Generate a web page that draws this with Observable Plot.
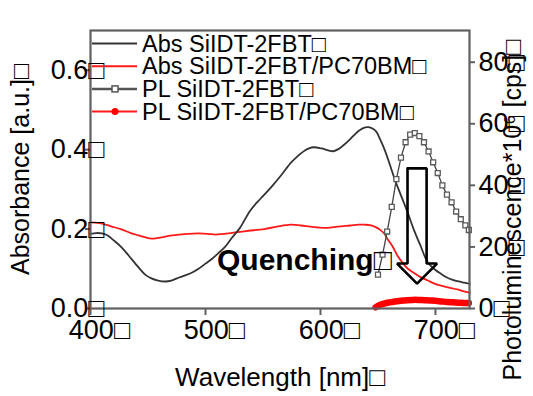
<!DOCTYPE html>
<html><head><meta charset="utf-8">
<script src="https://cdn.jsdelivr.net/npm/d3@7"></script>
<script src="https://cdn.jsdelivr.net/npm/@observablehq/plot@0.6"></script>
<style>body{margin:0;background:#fff;}</style>
</head><body><div id="chart"></div>
<script>
const BOX = "\u25A1";

// Absorbance, SiIDT-2FBT (a.u.)
const absWl = [400,405,410,415,420,427,433,439,444,448,453,458,465,471,477,483,488,494,500,506,511,517,523,530,539,548,557,566,574,580,585,590,594,601,606,611,616,620,625,629,634,639,643,648,652,656,660,665,670,676,681,687,693,700,705,710,715,720,725,730];
const absPristine = [0.188,0.190,0.189,0.184,0.172,0.154,0.134,0.113,0.096,0.084,0.076,0.071,0.068,0.071,0.078,0.084,0.090,0.100,0.113,0.126,0.139,0.155,0.178,0.203,0.247,0.277,0.305,0.336,0.366,0.383,0.395,0.403,0.406,0.403,0.399,0.396,0.402,0.411,0.424,0.436,0.449,0.456,0.456,0.447,0.425,0.398,0.365,0.322,0.285,0.240,0.200,0.158,0.118,0.097,0.087,0.078,0.072,0.068,0.065,0.062];

// Absorbance, SiIDT-2FBT/PC70BM (a.u.)
const blendWl = [400,410,418,427,435,442,448,453,459,465,471,477,485,494,502,509,515,522,535,551,562,574,583,591,598,606,615,626,633,638,643,648,652,655,659,663,667,672,676,681,687,693,698,704,711,719,724,730];
const absBlend = [0.217,0.214,0.207,0.199,0.190,0.184,0.179,0.176,0.178,0.181,0.184,0.186,0.188,0.189,0.188,0.186,0.188,0.190,0.195,0.200,0.206,0.211,0.209,0.206,0.204,0.203,0.206,0.209,0.211,0.211,0.210,0.205,0.198,0.190,0.172,0.155,0.133,0.113,0.100,0.090,0.079,0.071,0.064,0.058,0.053,0.048,0.044,0.040];

// Photoluminescence, SiIDT-2FBT (x10^6 cps)
const plWl = [650,654,658,662,666,670,674,678,682,686,690,694,698,702,706,710,714,718,722,726,729];
const plPristine = [11,17.5,25,33,42,49,54,56.5,57,56,54,51,47.5,44,40,37,34.5,31.5,29,27,25.5];

// Photoluminescence, SiIDT-2FBT/PC70BM (x10^6 cps)
const plBlendWl = [648,652,656,660,665,670,675,680,685,690,695,700,705,710,715,720,725,729];
const plBlend = [0.4,1.2,1.7,2.0,2.3,2.5,2.7,2.8,2.8,2.7,2.6,2.5,2.3,2.1,2.0,1.9,1.8,1.8];

const seriesNames = ["Abs SiIDT-2FBT", "Abs SiIDT-2FBT/PC70BM", "PL SiIDT-2FBT", "PL SiIDT-2FBT/PC70BM"];
const xTicks = [400, 500, 600, 700];
const absTicks = [0, 0.2, 0.4, 0.6];
const plTicks = [0, 20, 40, 60, 80];

const absMax = 0.70, plMax = 90.3, wlMin = 400, wlMax = 729.6;
const k = absMax / plMax; // PL -> absorbance axis units

// annotation (arrow in nm / PL units)
const arrow = {at: 684, top: 45.5, neck: 14.6, tip: 8.1, shaft: 8.3, head: 17.4};
const arrowPts = [
  [arrow.at - arrow.shaft, arrow.top], [arrow.at + arrow.shaft, arrow.top],
  [arrow.at + arrow.shaft, arrow.neck], [arrow.at + arrow.head, arrow.neck],
  [arrow.at, arrow.tip], [arrow.at - arrow.head, arrow.neck],
  [arrow.at - arrow.shaft, arrow.neck], [arrow.at - arrow.shaft, arrow.top]
].map(([w, p]) => ({w, v: p * k}));

const dAbs = absWl.map((w, i) => ({w, v: absPristine[i]}));
const dBlend = blendWl.map((w, i) => ({w, v: absBlend[i]}));
const dPl = plWl.map((w, i) => ({w, v: plPristine[i] * k}));
const dPlB = plBlendWl.map((w, i) => ({w, v: plBlend[i] * k}));

const FONT = "'Liberation Sans', Arial, sans-serif";
const chart = Plot.plot({
  width: 533, height: 396,
  marginLeft: 90, marginRight: 64, marginTop: 30, marginBottom: 88,
  style: {fontFamily: FONT, fontSize: "26px", background: "white", color: "black"},
  x: {domain: [wlMin, wlMax], label: null},
  y: {domain: [0, absMax], label: null},
  marks: [
    Plot.line(dPlB, {x: "w", y: "v", stroke: "#ff0000", strokeWidth: 6.5, curve: "catmull-rom"}),
    Plot.line(dBlend, {x: "w", y: "v", stroke: "#ff1a1a", strokeWidth: 1.8, curve: "catmull-rom"}),
    Plot.line(dAbs, {x: "w", y: "v", stroke: "#333", strokeWidth: 1.8, curve: "catmull-rom"}),
    Plot.line(dPl, {x: "w", y: "v", stroke: "#444", strokeWidth: 1.3}),
    Plot.dot(dPl, {x: "w", y: "v", symbol: "square", r: 2.8, stroke: "#5a5a5a", fill: "white", strokeWidth: 1.3}),
    Plot.line(arrowPts, {x: "w", y: "v", stroke: "black", strokeWidth: 2.6, strokeLinejoin: "miter"}),
    Plot.text(["Quenching" + BOX], {x: 662, y: 0.121, text: d => d, textAnchor: "end", fontWeight: "bold", fontSize: 30}),
    Plot.frame({stroke: "#606060", strokeWidth: 2.2}),
    // x axis
    Plot.axisX({ticks: xTicks, tickSize: 7, tickFormat: () => "", stroke: "#606060", strokeWidth: 2, label: null}),
    Plot.axisX({ticks: xTicks, tickSize: 0, tickPadding: 11, tickFormat: d => d + BOX, dx: 9, fill: "black", fontSize: 27, label: null}),
    // left axis
    Plot.axisY({ticks: absTicks, tickSize: 5, tickFormat: () => "", stroke: "#606060", strokeWidth: 2, label: null}),
    Plot.axisY({ticks: absTicks, tickSize: 0, tickPadding: 4, tickFormat: d => d.toFixed(1) + BOX, dx: 18, fill: "black", fontSize: 27, label: null}),
    // right axis
    Plot.axisY({anchor: "right", ticks: plTicks.map(v => v * k), tickSize: 5, tickFormat: () => "", stroke: "#606060", strokeWidth: 2, label: null}),
    Plot.axisY({anchor: "right", ticks: plTicks.map(v => v * k), tickSize: 0, tickPadding: 9, tickFormat: d => Math.round(d / k) + BOX, fill: "black", fontSize: 27, label: null}),
    // axis titles
    Plot.text(["Wavelength [nm]" + BOX], {frameAnchor: "bottom", dy: 77, text: d => d, fontSize: 26}),
    Plot.text(["Absorbance [a.u.]" + BOX], {frameAnchor: "left", dx: -70, rotate: -90, textAnchor: "middle", text: d => d, fontSize: 25}),
    Plot.text(["Photoluminescence*10\u2076 [cps]" + BOX], {frameAnchor: "bottom-right", dx: 51, dy: 72, rotate: -90, textAnchor: "start", text: d => d, fontSize: 25})
  ]
});

// legend (inside the frame, top-left)
const svg = d3.select(chart);
const lg = svg.append("g").attr("font-family", FONT).attr("font-size", 23.5).attr("text-anchor", "start");
const legendStyles = [
  {stroke: "#333", w: 2, marker: null},
  {stroke: "#ff1a1a", w: 2, marker: null},
  {stroke: "#555", w: 2.5, marker: "square"},
  {stroke: "#ff1a1a", w: 2, marker: "dot"}
];
seriesNames.forEach((name, i) => {
  const yy = 43.5 + i * 22.7;
  const s = legendStyles[i];
  lg.append("line").attr("x1", 92).attr("x2", 137).attr("y1", yy).attr("y2", yy)
    .attr("stroke", s.stroke).attr("stroke-width", s.w);
  if (s.marker === "square") lg.append("rect").attr("x", 112).attr("y", yy - 3).attr("width", 6).attr("height", 6)
    .attr("fill", "white").attr("stroke", "#555").attr("stroke-width", 1.5);
  if (s.marker === "dot") lg.append("circle").attr("cx", 115).attr("cy", yy).attr("r", 3.5).attr("fill", "#ff0000");
  lg.append("text").attr("x", 142).attr("y", yy).attr("dy", "0.35em").text(name + BOX);
});

document.getElementById("chart").append(chart);
</script>
</body></html>
